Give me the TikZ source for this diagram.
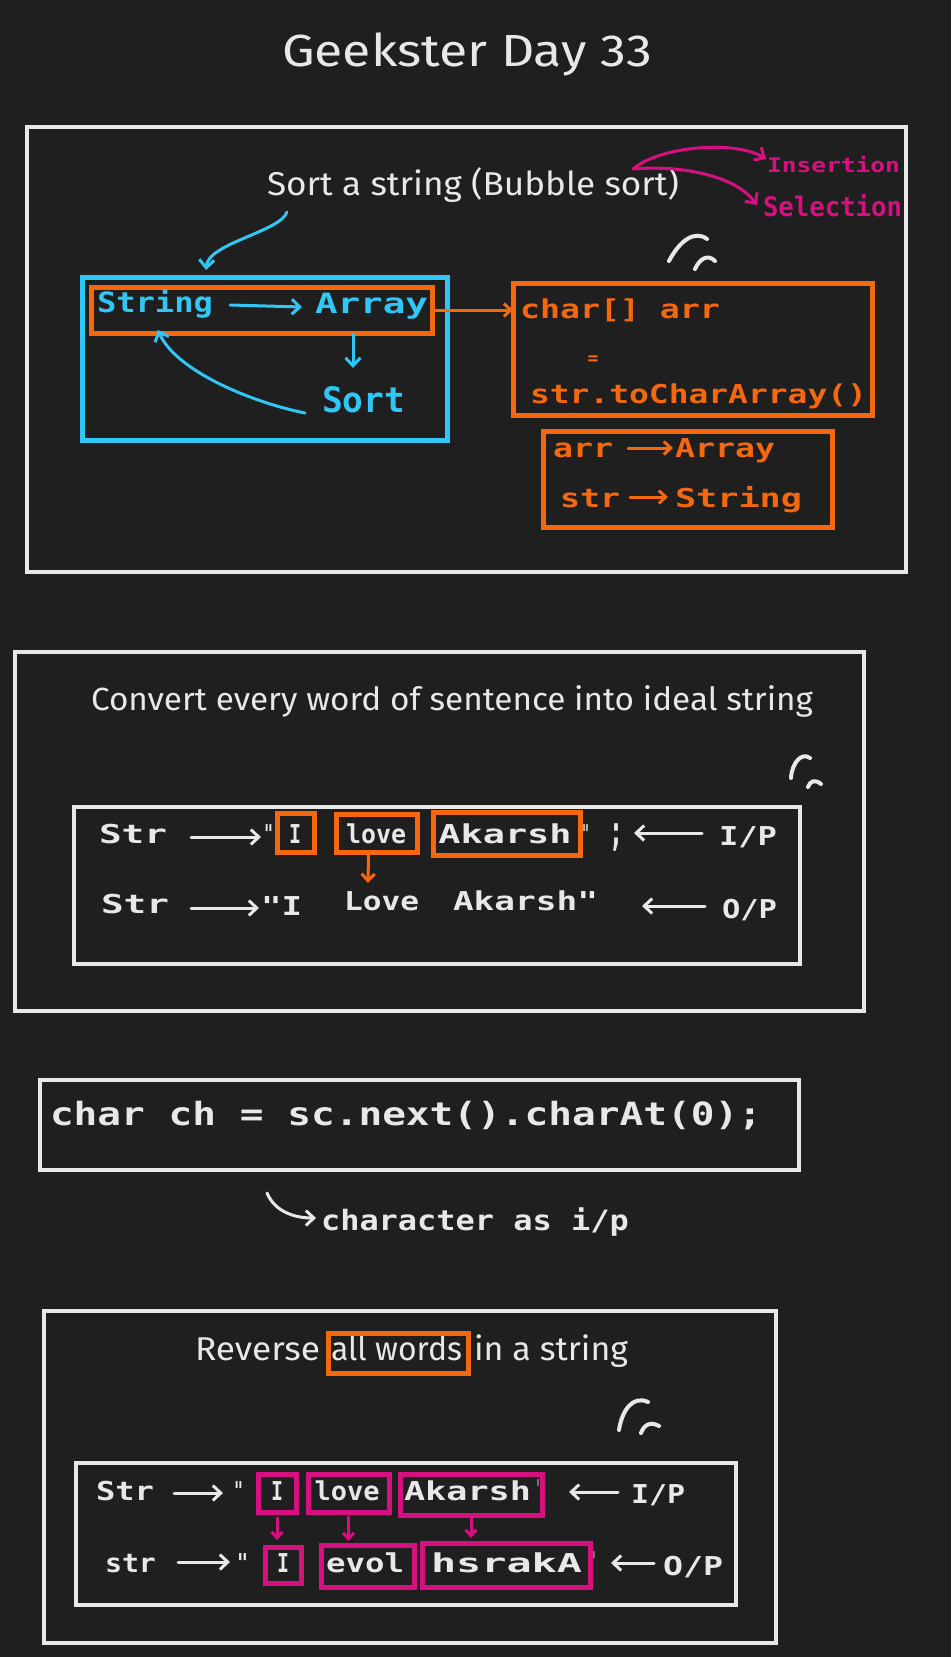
\documentclass[tikz,border=0pt]{standalone}
\usepackage{fontspec}
\setmainfont{Fira Sans}
\newfontfamily\hand{DejaVu Sans Mono}
\usepackage{graphicx}
\usetikzlibrary{arrows.meta,fit,calc}
\definecolor{bg}{RGB}{31,31,31}
\definecolor{wh}{RGB}{232,232,232}
\definecolor{cy}{RGB}{48,198,245}
\definecolor{org}{RGB}{245,104,14}
\definecolor{mg}{RGB}{214,16,128}
\newcommand\fw[2]{\resizebox{#1pt}{\height}{#2}}
\newcommand\hf[1]{\hand\bfseries\fontsize{#1}{#1}\selectfont}
\newcommand\tf[1]{\fontsize{#1}{#1}\selectfont}
\begin{document}
\begin{tikzpicture}[x=1pt,y=-1pt,
  txt/.style={inner sep=0pt, outer sep=0pt, anchor=base west, text=wh},
  ctxt/.style={inner sep=0pt, outer sep=0pt, anchor=base, text=wh},
  wbx/.style={draw=wh, line width=3.5pt, inner sep=0pt, outer sep=0pt},
  cbx/.style={draw=cy, line width=5pt, inner sep=0pt, outer sep=0pt},
  obx/.style={draw=org, line width=5pt, inner sep=0pt, outer sep=0pt},
  mbx/.style={draw=mg, line width=5pt, inner sep=0pt, outer sep=0pt},
  warr/.style={draw=wh, line width=3pt, line cap=round, -{Straight Barb[length=8pt,width=15pt]}},
  carr/.style={draw=cy, line width=3pt, line cap=round, -{Straight Barb[length=8pt,width=15pt]}},
  oarr/.style={draw=org, line width=3pt, line cap=round, -{Straight Barb[length=7pt,width=13pt]}},
  parr/.style={draw=mg, line width=3pt, line cap=round, -{Straight Barb[length=8pt,width=15pt]}},
  marr/.style={draw=mg, line width=3pt, line cap=round, -{Straight Barb[length=6pt,width=11pt]}},
  pen/.style={draw=wh, line width=4pt, line cap=round}]
\fill[bg] (0,0) rectangle (951,1657);
\useasboundingbox (0,0) rectangle (951,1657);

% ---------- title
\node[txt, font={\tf{45}}] (title) at (282,66) {\fw{370}{Geekster Day 33}};

% ---------- section 1
\node[wbx, fit={(27,127) (906,572)}] (b1) {};
\node[txt, font={\tf{33}}] (sorth) at (267,195) {\fw{412}{Sort a string (Bubble sort)}};
\coordinate (pk) at (633,169);
\node[txt, text=mg, font={\hf{20}}] (ins) at (767,172) {\fw{133}{Insertion}};
\node[txt, text=mg, font={\hf{27}}] (sel) at (763,216) {\fw{139}{Selection}};
\draw[parr] (pk) .. controls (660,146) and (735,140) .. ($(ins.base west)+(-1,-13)$);
\draw[parr] (pk) .. controls (680,165) and (735,175) .. ($(sel.base west)+(-6,-11)$);

\node[cbx, fit={(82,277) (447,440)}] (bbox) {};
\node[obx, fit={(91,287) (432,333)}] (obox) {};
\coordinate (bs) at (287,212);
\draw[carr] (bs) .. controls (280,232) and (208,243) .. ($(bbox.north west)+(124,-7)$);
\node[txt, text=cy, font={\hf{28}}] (strg) at (97,312) {\fw{116}{String}};
\node[txt, text=cy, font={\hf{28}}] (arry) at (315,313) {\fw{113}{Array}};
\node[txt, text=cy, font={\hf{35}}] (srt) at (322,412) {\fw{83}{Sort}};
\draw[carr] ($(strg.base east)+(17,-7)$) -- ($(arry.base west)+(-13,-6)$);
\draw[carr] ($(obox.south)+(91.5,1)$) -- ($(srt.base west)+(31,-44)$);
\draw[carr] ($(srt.base west)+(-17,1)$) .. controls (250,402) and (175,370) .. ($(strg.base west)+(61,18)$);

\node[obx, fit={(513,283) (872,415)}] (cbox) {};
\draw[oarr] (obox.east) -- (obox.east -| cbox.west);
\node[txt, text=org, font={\hf{26}}] (chr) at (520,318) {\fw{200}{char[] arr}};
\node[ctxt, text=org, font={\hf{18}}] (eq) at (593,364) {=};
\node[txt, text=org, font={\hf{26}}] (toc) at (530,403) {\fw{337}{str.toCharArray()}};
\node[obx, fit={(543,431) (832,527)}] (abox) {};
\node[txt, text=org, font={\hf{26}}] (a1) at (553,457) {\fw{60}{arr}};
\node[txt, text=org, font={\hf{26}}] (a2) at (675,457) {\fw{100}{Array}};
\node[txt, text=org, font={\hf{26}}] (s1x) at (560,507) {\fw{60}{str}};
\node[txt, text=org, font={\hf{26}}] (s2x) at (675,507) {\fw{127}{String}};
\draw[oarr] ($(a1.base east)+(15,-9)$) -- ($(a2.base west)+(-2,-9)$);
\draw[oarr] ($(s1x.base east)+(10,-10)$) -- ($(s2x.base west)+(-7,-10)$);
\draw[pen] (669,261) .. controls (680,240) and (695,230) .. (707,239);
\draw[pen] (695,269) .. controls (700,258) and (708,254) .. (715,261);

% ---------- section 2
\node[wbx, fit={(15,652) (864,1011)}] (b2) {};
\node[txt, font={\tf{32}}] (conv) at (91,710) {\fw{722}{Convert every word of sentence into ideal string}};
\draw[pen] (791,778) .. controls (792,762) and (802,752) .. (810,758);
\draw[pen] (808,787) .. controls (810,781) and (815,779) .. (821,784);
\node[wbx, fit={(74,807) (800,964)}] (ib2) {};
% row 1
\node[txt, font={\hf{26}}] (r1s) at (99,843) {\fw{68}{Str}};
\node[txt, font={\hf{26}}] (r1q) at (264,843) {\fw{9}{"}};
\node[obx, fit={(277,813) (314,852)}] (ob1) {};
\node[obx, fit={(336,814) (417,852)}] (ob2) {};
\node[obx, fit={(433,812) (580,855)}] (ob3) {};
\node[ctxt, font={\hf{26}}] (r1i) at (295,843) {\fw{12}{I}};
\node[ctxt, font={\hf{26}}] (r1l) at (376,843) {\fw{60}{love}};
\node[ctxt, font={\hf{26}}] (r1a) at (505,843) {\fw{133}{Akarsh}};
\node[txt, font={\hf{26}}] (r1q2) at (582,843) {\fw{7}{"}};
\node[txt, font={\hf{42}}] (r1sc) at (609,845) {\fw{14}{;}};
\node[txt, font={\hf{26}}] (r1p) at (719,845) {\fw{58}{I/P}};
\draw[warr] ($(r1s.base east)+(24,-6)$) -- ($(r1q.base west)+(-3,-6)$);
\draw[warr] ($(r1p.base west)+(-17,-12)$) -- ($(r1sc.base east)+(11,-12)$);
% row 2
\node[txt, font={\hf{26}}] (r2s) at (101,913) {\fw{68}{Str}};
\node[txt, font={\hf{26}}] (r2i) at (261,915) {\fw{41}{"I}};
\node[txt, font={\hf{26}}] (r2l) at (344,910) {\fw{75}{Love}};
\node[txt, font={\hf{26}}] (r2a) at (453,910) {\fw{145}{Akarsh"}};
\node[txt, font={\hf{26}}] (r2p) at (722,918) {\fw{55}{O/P}};
\draw[warr] ($(r2s.base east)+(22,-5)$) -- ($(r2i.base west)+(-2,-7)$);
\draw[warr] ($(r2p.base west)+(-17,-12)$) -- ($(r2a.base east)+(44,-4)$);
\draw[oarr] ($(ob2.south)+(-8,3)$) -- ($(r2l.base west)+(24,-27)$);

% ---------- section 3
\node[wbx, fit={(40,1080) (799,1170)}] (b3) {};
\node[txt, font={\hf{32}}] (code) at (50,1125) {\fw{712}{char ch = sc.next().charAt(0);}};
\node[txt, font={\hf{28}}] (cai) at (321,1230) {\fw{308}{character as i/p}};
\draw[warr] ($(b3.south west)+(227,23)$) .. controls (275,1212) and (295,1218) .. ($(cai.base west)+(-5,-12)$);

% ---------- section 4
\node[wbx, fit={(44,1311) (776,1643)}] (b4) {};
\node[txt, font={\tf{33}}] (rv1) at (195,1360) {\fw{125}{Reverse}};
\node[txt, font={\tf{33}}] (rv2) at (331,1360) {\fw{131}{all words}};
\node[txt, font={\tf{33}}] (rv3) at (474,1360) {\fw{154}{in a string}};
\node[obx, fit={(328,1333) (468,1373)}] (ob4) {};
\draw[pen] (619,1430) .. controls (622,1410) and (633,1395) .. (648,1402);
\draw[pen] (641,1433) .. controls (644,1425) and (650,1421) .. (659,1426);
\node[wbx, fit={(76,1463) (736,1605)}] (ib4) {};
% row 1
\node[txt, font={\hf{26}}] (q1s) at (96,1500) {\fw{58}{Str}};
\node[txt, font={\hf{26}}] (q1q) at (234,1500) {\fw{9}{"}};
\node[mbx, fit={(258,1474) (296,1512)}] (m1) {};
\node[mbx, fit={(308,1474) (389,1512)}] (m2) {};
\node[mbx, fit={(400,1474) (542,1515)}] (m3) {};
\node[ctxt, font={\hf{26}}] (q1i) at (277,1500) {\fw{12}{I}};
\node[ctxt, font={\hf{26}}] (q1l) at (347,1500) {\fw{65}{love}};
\node[txt, font={\hf{26}}] (q1a) at (404,1500) {\fw{127}{Akarsh}};
\node[txt, font={\hf{26}}] (q1t) at (536,1498) {\fw{4}{'}};
\node[txt, font={\hf{26}}] (q1p) at (631,1503) {\fw{54}{I/P}};
\draw[warr] ($(q1s.base east)+(20,-7)$) -- ($(q1q.base west)+(-11,-7)$);
\draw[warr] ($(q1p.base west)+(-13,-11)$) -- ($(q1t.base east)+(29,-6)$);
% row 2
\node[txt, font={\hf{26}}] (q2s) at (105,1572) {\fw{51}{str}};
\node[txt, font={\hf{26}}] (q2q) at (237,1572) {\fw{11}{"}};
\node[mbx, fit={(265,1547) (301,1583)}] (m4) {};
\node[mbx, fit={(321,1545) (414,1587)}] (m5) {};
\node[mbx, fit={(422,1543) (590,1587)}] (m6) {};
\node[ctxt, font={\hf{26}}] (q2i) at (283,1572) {\fw{12}{I}};
\node[txt, font={\hf{26}}] (q2e) at (326,1572) {\fw{78}{evol}};
\node[txt, font={\hf{26}}] (q2h) at (431,1572) {\fw{151}{hsrakA}};
\node[txt, font={\hf{26}}] (q2t) at (592,1570) {\fw{4}{'}};
\node[txt, font={\hf{26}}] (q2p) at (663,1575) {\fw{60}{O/P}};
\draw[warr] ($(q2s.base east)+(22,-10)$) -- ($(q2q.base west)+(-7,-10)$);
\draw[warr] ($(q2p.base west)+(-9,-12)$) -- ($(q2t.base east)+(15,-7)$);
\draw[marr, shorten <=6pt, shorten >=7pt] (m1.south) -- (m1.south |- m4.north);
\draw[marr, shorten <=5pt, shorten >=4pt] (m2.south) -- (m2.south |- m5.north);
\draw[marr, shorten <=3pt, shorten >=5pt] (m3.south) -- (m3.south |- m6.north);
\end{tikzpicture}
\end{document}
